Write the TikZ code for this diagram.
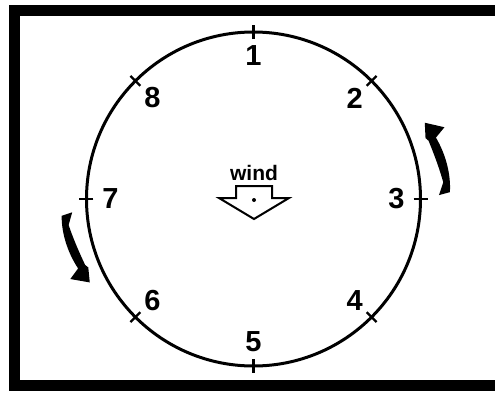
\documentclass[tikz,border=0pt]{standalone}
\usepackage{fontspec}
\setmainfont{Liberation Sans}
\usetikzlibrary{calc}

\tikzset{
  numlbl/.style={font=\fontsize{29}{29}\selectfont\bfseries, inner sep=0pt},
  ticklbl/.style={line width=2.4},
}

\begin{document}
\begin{tikzpicture}[x=1pt,y=1pt]
  \useasboundingbox (-253.5,-193) rectangle (241.5,199);
  % frame (open on the right)
  \draw[line width=10.5, line join=miter] (262,188.5) -- (-239,188.5) -- (-239,-186.5) -- (262,-186.5);
  % circle
  \draw[line width=3] (0,0) circle[radius=167];
  % ticks and numbers
  \foreach \k in {1,...,8}{
    \pgfmathsetmacro{\a}{90-45*(\k-1)}
    \draw[ticklbl] (\a:160) -- (\a:174);
    \node[numlbl] (n\k) at (\a:143) {\k};
  }
  % wind symbol
  \node[font=\fontsize{21}{21}\selectfont\bfseries, inner sep=0pt] (windlbl) at (0.5,26.5) {wind};
  \draw[line width=2, line join=miter] (-17.5,1) -- (-17.5,13) -- (18.5,13) -- (18.5,1)
       -- (35.5,1) -- (0.5,-20) -- (-34.5,1) -- cycle;
  \fill (0.5,-1) circle[radius=2];
  % rotation arrows
  \foreach \r/\s in {0/1, 183/0.98}{
    \begin{scope}[rotate=\r, scale=\s]
      \fill (1.2:185.5) -- (2:196.5) .. controls (7:199) and (13:197.5) .. (18.6:192.5)
            -- (20.6:204) -- (24:187.5) -- (19.5:182.5) -- (18.4:184.5)
            .. controls (13:186.5) and (9:188.5) .. (5:190.5) -- cycle;
    \end{scope}
  }
\end{tikzpicture}
\end{document}
